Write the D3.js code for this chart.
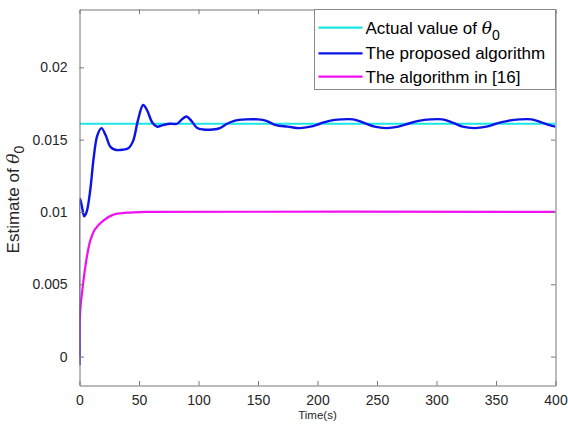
<!DOCTYPE html>
<html>
<head>
<meta charset="utf-8">
<script src="https://cdn.jsdelivr.net/npm/d3@7"></script>
<style>
  body { margin: 0; background: #fff; }
  text { font-family: "Liberation Sans", Arial, sans-serif; }
</style>
</head>
<body>
<div id="chart"></div>
<script>
// Data
const xTicks = [0, 50, 100, 150, 200, 250, 300, 350, 400];
const yTicks = [0, 0.005, 0.01, 0.015, 0.02];
const yTickLabels = ["0", "0.005", "0.01", "0.015", "0.02"];

const actualValue = 0.0161;   // cyan, constant

const proposedT = [0, 0.5, 2, 4, 6, 9, 12, 15, 18.5, 22, 26, 30, 36, 41, 45, 49, 53.5, 57, 61, 65,
  70, 76, 82, 86, 90, 94, 99, 104, 112, 118, 124, 130, 140, 150, 157, 165, 175, 185, 194, 202,
  210, 220, 230, 238, 248, 258, 268, 276, 285, 295, 305, 313, 322, 332, 342, 350, 360, 370, 380,
  388, 395, 400];
const proposedV = [-0.0006, 0.0109, 0.0104, 0.0097, 0.0100, 0.0115, 0.0138, 0.0153, 0.0158, 0.0153,
  0.0145, 0.0143, 0.0143, 0.0144, 0.0149, 0.0163, 0.0174, 0.0170, 0.0162, 0.0159,
  0.0160, 0.0161, 0.0161, 0.0164, 0.0166, 0.0163, 0.0158, 0.0157, 0.0157, 0.0158,
  0.0161, 0.0163, 0.0164, 0.0164, 0.0163, 0.0160, 0.0159, 0.0158, 0.0159, 0.0161,
  0.0163, 0.0164, 0.0164, 0.0162, 0.0159, 0.0158, 0.0159, 0.0161, 0.0163, 0.0164,
  0.0164, 0.0162, 0.0159, 0.0158, 0.0159, 0.0161, 0.0163, 0.0164, 0.0164,
  0.0162, 0.0160, 0.0159];

const refT = [0, 0.3, 1, 2, 3.4, 6, 9, 13, 20, 28, 40, 55, 400];
const refV = [0, 0.0025, 0.0036, 0.0043, 0.0053, 0.0068, 0.0080, 0.0088, 0.0094, 0.0098, 0.00995, 0.0100, 0.0100];

const legendLabels = ["Actual value of ", "The proposed algorithm", "The algorithm in [16]"];
const colors = ["#1ee6e6", "#0a14e6", "#f010f0"];

// Set up SVG
const W = 568, H = 428;
const margin = {top: 9.5, right: 12.5, bottom: 42.5, left: 79.5},
      width  = W - margin.left - margin.right,
      height = H - margin.top  - margin.bottom;

const svg = d3.select("#chart")
  .append("svg")
    .attr("width", W)
    .attr("height", H)
  .append("g")
    .attr("transform", `translate(${margin.left},${margin.top})`);

const x = d3.scaleLinear().domain([0, 400]).range([0, width]);
const y = d3.scaleLinear().domain([-0.002, 0.024]).range([height, 0]);

const axisColor = "#777";
const tickLen = 4.5;

// Clip for the curves
svg.append("clipPath").attr("id", "clip")
  .append("rect").attr("width", width).attr("height", height);

const line = d3.line()
  .x(d => x(d[0]))
  .y(d => y(d[1]))
  .curve(d3.curveCatmullRom.alpha(0.5));

const plot = svg.append("g").attr("clip-path", "url(#clip)");

plot.append("path")
  .datum([[0, actualValue], [400, actualValue]])
  .attr("d", line)
  .attr("fill", "none")
  .attr("stroke", colors[0])
  .attr("stroke-width", 2.2);

plot.append("path")
  .datum(refT.map((t, i) => [t, refV[i]]))
  .attr("d", line)
  .attr("fill", "none")
  .attr("stroke", colors[2])
  .attr("stroke-width", 2.2);

plot.append("path")
  .datum(proposedT.map((t, i) => [t, proposedV[i]]))
  .attr("d", line)
  .attr("fill", "none")
  .attr("stroke", colors[1])
  .attr("stroke-width", 2.4);

// Axes (box with inward ticks on all sides)
svg.append("g")
  .attr("transform", `translate(0,${height})`)
  .call(d3.axisBottom(x).tickValues(xTicks).tickSizeInner(-tickLen).tickSizeOuter(0).tickPadding(9.5))
  .call(g => g.select(".domain").attr("stroke", axisColor))
  .call(g => g.selectAll(".tick line").attr("stroke", axisColor))
  .call(g => g.selectAll("text").style("font-size", "14px").attr("fill", "#262626"));

svg.append("g")
  .call(d3.axisTop(x).tickValues(xTicks).tickSizeInner(-tickLen).tickSizeOuter(0).tickFormat(""))
  .call(g => g.select(".domain").attr("stroke", axisColor))
  .call(g => g.selectAll(".tick line").attr("stroke", axisColor));

svg.append("g")
  .call(d3.axisLeft(y).tickValues(yTicks).tickSizeInner(-tickLen).tickSizeOuter(0).tickPadding(12)
    .tickFormat((d, i) => yTickLabels[i]))
  .call(g => g.select(".domain").attr("stroke", axisColor))
  .call(g => g.selectAll(".tick line").attr("stroke", axisColor))
  .call(g => g.selectAll("text").style("font-size", "14px").attr("fill", "#262626"));

svg.append("g")
  .attr("transform", `translate(${width},0)`)
  .call(d3.axisRight(y).tickValues(yTicks).tickSizeInner(-tickLen).tickSizeOuter(0).tickFormat(""))
  .call(g => g.select(".domain").attr("stroke", axisColor))
  .call(g => g.selectAll(".tick line").attr("stroke", axisColor));

// Axis labels
svg.append("text")
  .attr("x", width / 2)
  .attr("y", height + 33.5)
  .attr("text-anchor", "middle")
  .style("font-size", "11.5px")
  .attr("fill", "#262626")
  .text("Time(s)");

const yl = svg.append("text")
  .attr("transform", `translate(${19 - margin.left},${height / 2 + 2}) rotate(-90)`)
  .attr("text-anchor", "middle")
  .style("font-size", "17px")
  .attr("fill", "#262626");
yl.append("tspan").text("Estimate of ");
yl.append("tspan").style("font-family", "'DejaVu Serif', serif").style("font-style", "italic").text("θ");
yl.append("tspan").attr("dy", 5).style("font-size", "14px").text("0");

// Legend
const legX = 314.5 - margin.left, legW = width - legX;
const legend = svg.append("g");
legend.append("rect")
  .attr("x", legX).attr("y", 0)
  .attr("width", legW).attr("height", 80)
  .attr("fill", "#fff")
  .attr("stroke", "#888");

const rowY = [18.2, 43.8, 67.2];
legendLabels.forEach((lab, i) => {
  const g = legend.append("g").attr("transform", `translate(${legX}, ${rowY[i]})`);
  g.append("line")
    .attr("x1", 4).attr("x2", 48)
    .attr("stroke", colors[i])
    .attr("stroke-width", 2.2);
  const t = g.append("text")
    .attr("x", 51).attr("y", 6)
    .style("font-size", "17px")
    .attr("fill", "#000")
    .text(lab);
  if (i === 0) {
    t.append("tspan").style("font-family", "'DejaVu Serif', serif").style("font-style", "italic").text("θ");
    t.append("tspan").attr("dy", 6).style("font-size", "14px").text("0");
  }
});
</script>
</body>
</html>
